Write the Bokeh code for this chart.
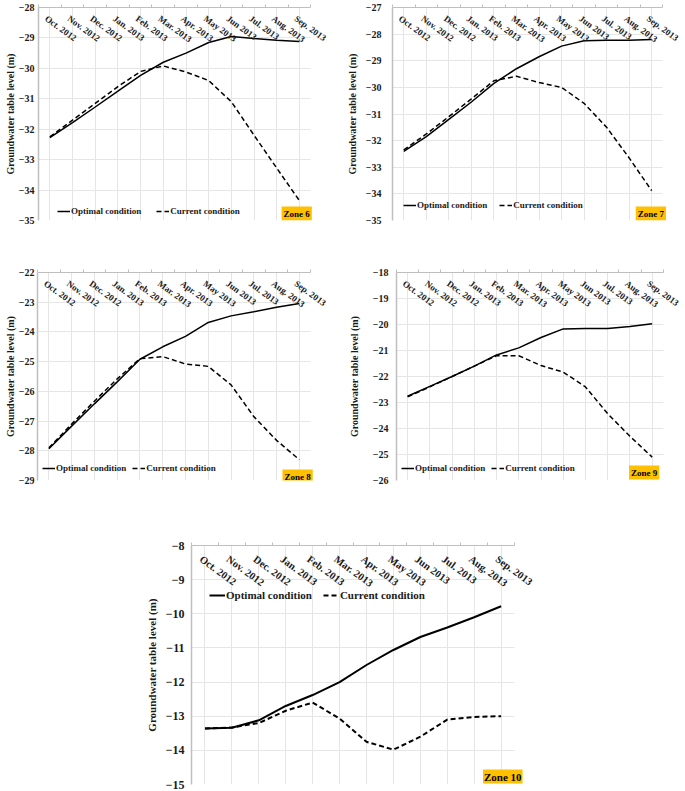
from bokeh.plotting import figure
from bokeh.models import (FactorRange, Range1d, LinearAxis, FixedTicker, Label,
                          LabelSet, ColumnDataSource, Legend, LegendItem, Spacer,
                          CustomLabelingPolicy)
from bokeh.layouts import row, column
from bokeh.embed import file_html
from bokeh.resources import INLINE

# ---------------- data ----------------
months = ["Oct. 2012", "Nov. 2012", "Dec. 2012", "Jan. 2013", "Feb. 2013", "Mar. 2013",
          "Apr. 2013", "May 2013", "Jun 2013", "Jul. 2013", "Aug. 2013", "Sep. 2013"]

zone6_optimal = [-32.28, -31.78, -31.27, -30.75, -30.23, -29.80, -29.50, -29.15, -28.95, -29.02, -29.08, -29.12]
zone6_current = [-32.25, -31.70, -31.15, -30.60, -30.10, -29.92, -30.12, -30.40, -31.10, -32.20, -33.28, -34.35]
zone6_yticks = [-35, -34, -33, -32, -31, -30, -29, -28]

zone7_optimal = [-32.40, -31.85, -31.20, -30.55, -29.85, -29.30, -28.85, -28.45, -28.25, -28.23, -28.23, -28.20]
zone7_current = [-32.35, -31.75, -31.10, -30.43, -29.75, -29.58, -29.82, -30.00, -30.60, -31.50, -32.65, -33.88]
zone7_yticks = [-35, -34, -33, -32, -31, -30, -29, -28, -27]

zone8_optimal = [-27.93, -27.17, -26.42, -25.68, -24.92, -24.50, -24.15, -23.68, -23.46, -23.32, -23.17, -23.04]
zone8_current = [-27.90, -27.10, -26.33, -25.58, -24.90, -24.83, -25.08, -25.16, -25.78, -26.85, -27.65, -28.30]
zone8_yticks = [-29, -28, -27, -26, -25, -24, -23, -22]

zone9_optimal = [-22.76, -22.38, -22.00, -21.60, -21.17, -20.90, -20.50, -20.17, -20.15, -20.15, -20.08, -19.97]
zone9_current = [-22.78, -22.40, -22.00, -21.60, -21.20, -21.20, -21.58, -21.83, -22.40, -23.43, -24.30, -25.10]
zone9_yticks = [-26, -25, -24, -23, -22, -21, -20, -19, -18]

zone10_optimal = [-13.36, -13.34, -13.12, -12.70, -12.38, -12.00, -11.50, -11.06, -10.68, -10.40, -10.10, -9.78]
zone10_current = [-13.36, -13.33, -13.20, -12.84, -12.60, -13.07, -13.75, -13.98, -13.60, -13.10, -13.02, -13.00]
zone10_yticks = [-15, -14, -13, -12, -11, -10, -9, -8]

series_names = ["Optimal condition", "Current condition"]
zone_names = ["Zone 6", "Zone 7", "Zone 8", "Zone 9", "Zone 10"]
y_title = "Groundwater table level (m)"

FONT = "Liberation Serif"
AXIS_GRAY = "#BFBFBF"
GRID_GRAY = "#E6E6E6"
ZONE_BG = "#FFC000"
N = len(months)


def panel(opt, cur, yticks, zone, W, H, bl, br, bt, bb, big=False,
          leg_loc=(0, 0), leg_spacing=10, zx=0, zy=0,
          lab_standoff=9, title_standoff=3, mlab_dy=-6):
    tick_fs = "12px" if big else "10px"
    title_fs = "11px" if big else "10px"
    leg_fs = "11px" if big else "9px"
    month_fs = "10.5px" if big else "9px"
    zone_fs = "11px" if big else "9px"
    lw = 2 if big else 1.5

    # one blank trailing factor leaves room for the last rotated label
    p = figure(width=W, height=H,
               x_range=FactorRange(*months, " ", range_padding=0),
               y_range=Range1d(min(yticks), max(yticks)),
               x_axis_location=None, y_axis_location="left",
               toolbar_location=None, output_backend="svg",
               min_border_left=bl, min_border_right=br,
               min_border_top=bt, min_border_bottom=bb)
    p.outline_line_color = None
    p.background_fill_color = "white"
    p.border_fill_color = "white"

    ax = p.yaxis[0]
    ax.ticker = FixedTicker(ticks=yticks)
    ax.axis_line_color = AXIS_GRAY
    ax.axis_line_width = 1.5
    ax.major_tick_line_color = None
    ax.minor_tick_line_color = None
    ax.major_tick_out = 0
    ax.major_tick_in = 0
    ax.minor_tick_out = 0
    ax.minor_tick_in = 0
    ax.major_label_standoff = lab_standoff
    ax.major_label_text_font = FONT
    ax.major_label_text_font_style = "bold"
    ax.major_label_text_font_size = tick_fs
    ax.major_label_text_color = "#1a1a1a"
    ax.axis_label = y_title
    ax.axis_label_standoff = title_standoff
    ax.axis_label_text_font = FONT
    ax.axis_label_text_font_style = "bold"
    ax.axis_label_text_font_size = title_fs
    ax.axis_label_text_color = "#1a1a1a"

    g = p.ygrid[0]
    g.grid_line_color = GRID_GRAY
    g.grid_line_width = 1
    g.ticker = FixedTicker(ticks=yticks)
    if "cross_bounds" in g.properties():
        g.cross_bounds = (0, N)

    # top axis: tick marks at category boundaries (synthetic coords 0..N)
    top = LinearAxis(ticker=FixedTicker(ticks=list(range(N + 1))),
                     bounds=(0, N),
                     major_label_text_font_size="0px", major_label_standoff=0,
                     major_label_policy=CustomLabelingPolicy(code="return new Set()"),
                     axis_line_color=AXIS_GRAY, axis_line_width=1.2,
                     major_tick_line_color=AXIS_GRAY, major_tick_out=3,
                     major_tick_in=0, minor_tick_line_color=None,
                     minor_tick_out=0, minor_tick_in=0)
    p.add_layout(top, "above")

    # rotated month labels hanging below the top axis
    src = ColumnDataSource(dict(x=months, text=months))
    p.add_layout(LabelSet(x="x", y=max(yticks), text="text", source=src,
                          angle=-36, angle_units="deg",
                          text_align="left", text_baseline="top",
                          x_offset=-1, y_offset=mlab_dy,
                          text_font=FONT, text_font_style="bold",
                          text_font_size=month_fs, text_color="#1a1a1a"))

    r_opt = p.line(months, opt, line_color="black", line_width=lw)
    r_cur = p.line(months, cur, line_color="black", line_width=lw, line_dash="5 3")

    legend = Legend(items=[LegendItem(label=series_names[0], renderers=[r_opt]),
                           LegendItem(label=series_names[1], renderers=[r_cur])],
                    orientation="horizontal", location=leg_loc,
                    padding=0, margin=0, spacing=leg_spacing,
                    glyph_width=16 if big else 13, glyph_height=10,
                    label_height=10, label_standoff=1,
                    border_line_color=None, background_fill_alpha=0,
                    label_text_font=FONT, label_text_font_style="bold",
                    label_text_font_size=leg_fs, label_text_color="#1a1a1a")
    p.add_layout(legend)

    p.add_layout(Label(x=N, y=min(yticks), text=zone,
                       text_align="right", text_baseline="bottom",
                       x_offset=zx, y_offset=zy, padding=1 if big else 2,
                       background_fill_color=ZONE_BG,
                       text_font=FONT, text_font_style="bold",
                       text_font_size=zone_fs, text_color="black"))
    return p


p6 = panel(zone6_optimal, zone6_current, zone6_yticks, zone_names[0],
           343, 250, 38, 10, 5, 30, leg_loc=(19, 4), leg_spacing=15, zx=1, zy=0,
           lab_standoff=4, title_standoff=0)
p7 = panel(zone7_optimal, zone7_current, zone7_yticks, zone_names[1],
           342, 250, 49, 0, 7, 30, leg_loc=(11, 10), leg_spacing=12, zx=3, zy=0,
           lab_standoff=11, title_standoff=5)
p8 = panel(zone8_optimal, zone8_current, zone8_yticks, zone_names[2],
           343, 255, 37, 10, 22, 22, leg_loc=(5, 7), leg_spacing=6, zx=2, zy=-3,
           lab_standoff=3, title_standoff=0)
p9 = panel(zone9_optimal, zone9_current, zone9_yticks, zone_names[3],
           342, 255, 53, 0, 22, 25, leg_loc=(5, 7), leg_spacing=6, zx=-4, zy=1,
           lab_standoff=8, title_standoff=10)
p10 = panel(zone10_optimal, zone10_current, zone10_yticks, zone_names[4],
            401, 286, 51, 0, 40, 7, big=True, leg_loc=(18, 183), leg_spacing=11,
            zx=8, zy=1, lab_standoff=7, title_standoff=5, mlab_dy=-8)

root = column(row(p6, p7), row(p8, p9),
              row(Spacer(width=140, height=286), p10))

open("out.html", "w").write(file_html(root, INLINE))
